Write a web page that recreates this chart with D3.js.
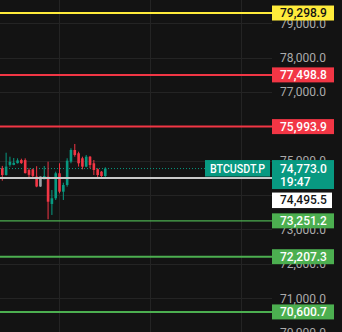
<!DOCTYPE html>
<html><head><meta charset="utf-8">
<script src="https://cdn.jsdelivr.net/npm/d3@7"></script>
<style>
html,body{margin:0;padding:0;background:#131313;overflow:hidden}
svg{display:block}
text{font-family:Roboto,"Noto Sans",sans-serif}
</style></head>
<body>
<svg id="c" width="342" height="332"></svg>
<script>
// ---- data ----
const opens  = [74780,74585,74880,74880,74930,75020,75020,74730,74750,74540,74250,74461,74536,73742,73908,74635,74100,74295,74973,75313,75217,75072,74828,75118,74926,74752,74682,74556];
const highs  = [74850,75234,75118,75080,75070,75060,75070,74780,74770,74840,74540,74847,74973,74149,74682,74926,74362,75072,75363,75488,75264,75118,75168,75140,75022,74780,74700,74810];
const lows   = [74420,74570,74828,74870,74920,74910,74630,74470,74520,74230,74240,74461,73296,73422,73858,74053,73858,74245,74926,75118,74830,74750,74810,74780,74585,74490,74530,74530];
const closes = [74585,74830,74970,74940,75010,74930,74640,74590,74560,74250,74540,74556,73808,73908,74635,74100,74295,75002,75313,75168,74926,74828,75118,74877,74731,74585,74556,74773];
const highlightIndex = 10;
const levels     = [79298.9, 77498.8, 75993.9, 73251.2, 72207.3, 70600.7];
const levelKinds = ["target", "resistance", "resistance", "support", "support", "support"];
const tickValues = [70000, 71000, 72000, 73000, 74000, 75000, 76000, 77000, 78000, 79000];
const timeGridIdx = [14.9, 38.8, 62.7];
const symbol = "BTCUSDT.P";
const lastPrice = 74773.0;
const countdown = "19:47";
const refPrice = 74495.5;

// ---- styles ----
const W = 342, H = 332, plotRight = 272;
const bg = "#131313", gridC = "#242424", axisText = "#ababab";
const up = "#089981", down = "#f23645";
const kindStyle = {
  target:     {color: "#ffeb3b", text: "#131313", width: 2},
  resistance: {color: "#f23645", text: "#ffffff", width: 2},
  support:    {color: "#4caf50", text: "#ffffff", width: 2}
};

const svg = d3.select("#c");
svg.append("rect").attr("width", W).attr("height", H).attr("fill", bg);

const y = d3.scaleLinear().domain([79000, 71000]).range([23.3, 298.2]);
const x = d3.scaleLinear().domain([0, opens.length - 1]).range([2.3, 105.3]);

// label boxes (computed first, so ticks fully covered by a label are not drawn)
const ly = y(lastPrice);
const ry = Math.max(y(refPrice), ly + 20.5 + 3.5 + 7.5);
const boxes = levels.map(v => [y(v) - 7.5, y(v) + 7.5])
  .concat([[ly - 8.5, ly + 20.5], [ry - 7.5, ry + 8]]);
const hidden = t => boxes.some(b => y(t) - 3 >= b[0] - 2 && y(t) + 3 <= b[1] + 2);
const shownTicks = tickValues.filter(t => !hidden(t));

// grid
svg.append("g").selectAll("line").data(tickValues).join("line")
  .attr("x1", 0).attr("x2", plotRight)
  .attr("y1", d => Math.round(y(d)) + 0.5).attr("y2", d => Math.round(y(d)) + 0.5)
  .attr("stroke", gridC).attr("stroke-width", 1);
svg.append("g").selectAll("line").data(timeGridIdx).join("line")
  .attr("x1", d => Math.round(x(d)) + 0.5).attr("x2", d => Math.round(x(d)) + 0.5)
  .attr("y1", 0).attr("y2", H)
  .attr("stroke", gridC).attr("stroke-width", 1);

// price axis
const axis = d3.axisRight(y).tickValues(shownTicks).tickSize(0).tickPadding(8)
  .tickFormat(d3.format(",.1f"));
const ag = svg.append("g").attr("transform", `translate(${plotRight},0)`).call(axis);
ag.select(".domain").remove();
ag.selectAll("text").attr("fill", axisText).attr("font-size", 12);

// level lines
svg.append("g").selectAll("line").data(levels).join("line")
  .attr("x1", 0).attr("x2", plotRight)
  .attr("y1", d => y(d)).attr("y2", d => y(d))
  .attr("stroke", (d, i) => kindStyle[levelKinds[i]].color)
  .attr("stroke-width", (d, i) => i === 3 ? 1.2 : kindStyle[levelKinds[i]].width);

// last price dotted line
svg.append("line").attr("x1", 0).attr("x2", 205)
  .attr("y1", y(lastPrice)).attr("y2", y(lastPrice))
  .attr("stroke", up).attr("stroke-width", 1).attr("stroke-dasharray", "1,2");

// candles
const cd = opens.map((o, i) => ({i, o, h: highs[i], l: lows[i], c: closes[i]}));
const col = d => d.i === highlightIndex ? "#9aa3a6" : (d.c >= d.o ? up : down);
const cg = svg.append("g");
cg.selectAll("line").data(cd).join("line")
  .attr("x1", d => x(d.i)).attr("x2", d => x(d.i))
  .attr("y1", d => y(d.h)).attr("y2", d => y(d.l))
  .attr("stroke", col).attr("stroke-width", 1);
cg.selectAll("rect").data(cd).join("rect")
  .attr("x", d => x(d.i) - 1.3).attr("width", 2.6)
  .attr("y", d => y(Math.max(d.o, d.c)))
  .attr("height", d => Math.max(1, Math.abs(y(d.o) - y(d.c))))
  .attr("fill", col);

// reference line (gray)
svg.append("line").attr("x1", 0).attr("x2", plotRight)
  .attr("y1", y(refPrice)).attr("y2", y(refPrice))
  .attr("stroke", "#c9c9c9").attr("stroke-width", 2);

// level labels
const fmt = d3.format(",.1f");
const lg = svg.append("g");
levels.forEach((v, i) => {
  const st = kindStyle[levelKinds[i]];
  const cy = y(v);
  lg.append("rect").attr("x", plotRight).attr("y", cy - 7.5).attr("width", 62).attr("height", 15)
    .attr("fill", st.color);
  lg.append("text").attr("x", 280).attr("y", cy).attr("dy", "0.36em")
    .attr("font-size", 12).attr("font-weight", 500).attr("fill", st.text).text(fmt(v));
});

// last price label (two lines)
lg.append("rect").attr("x", plotRight).attr("y", ly - 8.5).attr("width", 62).attr("height", 29)
  .attr("fill", up);
lg.append("text").attr("x", 280).attr("y", ly).attr("dy", "0.36em")
  .attr("font-size", 12).attr("font-weight", 500).attr("fill", "#ffffff").text(fmt(lastPrice));
lg.append("text").attr("x", 280).attr("y", ly + 13.3).attr("dy", "0.36em")
  .attr("font-size", 12).attr("font-weight", 500).attr("fill", "#ffffff").text(countdown);
// symbol label
lg.append("rect").attr("x", 205).attr("y", ly - 8.5).attr("width", 65).attr("height", 16.5)
  .attr("fill", up);
lg.append("text").attr("x", 210).attr("y", ly).attr("dy", "0.36em")
  .attr("font-size", 12).attr("font-weight", 500).attr("fill", "#ffffff")
  .attr("textLength", 55).attr("lengthAdjust", "spacingAndGlyphs").text(symbol);

// reference price label (pushed below last-price label)
lg.append("rect").attr("x", plotRight).attr("y", ry - 7.5).attr("width", 60).attr("height", 15.5)
  .attr("fill", "#ffffff");
lg.append("text").attr("x", 280).attr("y", ry).attr("dy", "0.36em")
  .attr("font-size", 12).attr("font-weight", 500).attr("fill", "#131313").text(fmt(refPrice));
</script>
</body></html>
